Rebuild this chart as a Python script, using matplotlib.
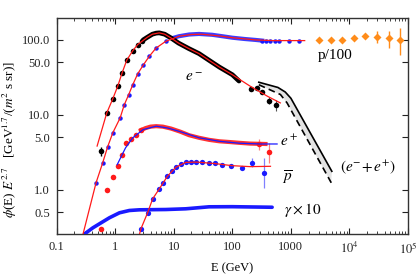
import numpy as np
import matplotlib
matplotlib.use("Agg")
import matplotlib.pyplot as plt
from matplotlib.ticker import LogLocator, FixedLocator, FixedFormatter, NullFormatter, NullLocator

plt.rcParams['font.family'] = ['Liberation Serif', 'DejaVu Serif']
plt.rcParams['mathtext.fontset'] = 'stix'

# ---------------- data ----------------
# electrons (black points) + fit (red)
ele_pts_E = [0.716, 0.907, 1.10, 1.31, 1.57, 1.99, 2.42, 2.87]
ele_pts_y = [10.5, 16.2, 23.8, 36, 53, 71, 86, 95]
ele_low_E = [0.575]
ele_low_y = [3.24]
ele_band_E = [3.0, 3.5, 4.3, 5.0, 5.65, 7.0, 9.0, 12.0, 18.0, 27.0, 40.0, 60.0, 100.0, 130.0]
ele_band_y = [99, 107, 118, 122, 123, 118, 105, 90, 76, 65, 53, 43, 34, 28]
ele_hi_E = [205, 265, 315, 419, 558]
ele_hi_y = [22, 22.7, 19.8, 15.4, 13.3]
ele_hi_err = [1.0, 1.2, 1.2, 1.5, 2.2]
ele_fit_E = [0.49, 0.716, 0.907, 1.10, 1.31, 1.57, 1.99, 2.42, 2.87, 3.5, 4.3, 5.65, 7.0, 9.0, 12.0,
             18.0, 27.0, 40.0, 60.0, 100.0, 200.0, 400.0, 660.0]
ele_fit_y = [3.8, 10.5, 16.2, 23.8, 36, 53, 71, 86, 95, 107, 118, 123, 118, 105, 90,
             76, 65, 53, 43, 34, 24, 17.5, 14.3]

# protons (blue points) + fit (red), high energy p/100 (orange)
pro_pts_E = [0.47, 0.61, 0.74, 0.907, 1.21, 1.43, 1.70, 1.99, 2.42, 3.02, 3.82, 4.96, 7.3, 10.0]
pro_pts_y = [1.23, 2.27, 3.7, 5.7, 9.0, 13.6, 18.5, 25, 35, 46, 60, 77, 95, 106]
pro_band_E = [10.0, 12.3, 18.3, 27.0, 45.0, 67.0, 100.0, 160.0, 249.0, 323.0]
pro_band_y = [106, 111, 117, 119, 116, 111, 106, 102, 99, 97]
pro_hi_E = [323, 383, 448, 530, 621, 918, 1358]
pro_hi_y = [97, 96.5, 96.5, 96.5, 97, 97, 97]
pro_fit_E = [0.28, 0.47, 0.61, 0.74, 0.907, 1.21, 1.43, 1.70, 1.99, 2.42, 3.02, 3.82, 4.96, 7.3,
             12.3, 20.0, 30.0, 60.0, 100.0, 250.0, 500.0, 1000.0, 1720.0]
pro_fit_y = [0.25, 1.23, 2.27, 3.7, 5.7, 9.0, 13.6, 18.5, 25, 35, 46, 60, 77, 95,
             111, 117, 118, 112, 106, 99, 97, 97, 97]
p100_E = [3055, 4810, 7600, 11800, 18500, 29900, 47300, 73600]
p100_y = [100, 100, 100, 104, 111, 109, 104, 100]
p100_err_lo = [2, 2, 2, 3, 5, 19, 27, 37]
p100_err_hi = [2, 2, 2, 3, 5, 20, 25, 43]

# positrons (red points) + fit (blue)
pos_pts_E = [0.575, 0.728, 0.907, 1.10, 1.31, 1.53, 1.86, 2.26, 2.75]
pos_pts_y = [0.293, 1.0, 1.47, 2.09, 2.93, 4.19, 4.74, 5.4, 6.2]
pos_band_E = [2.75, 3.3, 4.0, 5.0, 6.5, 9.0, 13.0, 18.3, 27.0, 40.0, 60.0, 90.0, 130.0, 200.0, 368.0]
pos_band_y = [6.2, 6.6, 6.9, 7.0, 6.9, 6.5, 5.9, 5.3, 4.9, 4.6, 4.4, 4.3, 4.2, 4.1, 4.05]
pos_hi_E = [283, 419]
pos_hi_y = [4.0, 3.14]
pos_hi_lo = [0.6, 0.86]
pos_hi_hi = [0.7, 1.05]
pos_fit_E = [1.08, 1.5, 1.99, 3.0, 5.0, 8.0, 13.0, 27.0, 60.0, 130.0, 300.0, 581.0]
pos_fit_y = [2.15, 3.6, 4.9, 6.3, 7.0, 6.6, 5.9, 4.9, 4.4, 4.15, 4.05, 4.05]

# antiprotons (blue points) + fit (red)
apr_pts_E = [2.75, 3.57, 4.35, 5.65, 6.6, 7.8, 9.3, 10.9, 13.2, 16.0, 19.3, 23.8, 30.0, 40.0, 50.0,
             67.0, 93.0, 147.0]
apr_pts_y = [0.30, 0.49, 0.75, 1.02, 1.23, 1.51, 1.75, 1.99, 2.2, 2.31, 2.33, 2.33, 2.32, 2.28, 2.24,
             2.15, 2.04, 1.94]
apr_hi_E = [213, 344]
apr_hi_y = [2.27, 1.67]
apr_hi_lo = [0.3, 0.61]
apr_hi_hi = [0.35, 0.93]
apr_fit_E = [2.58, 2.75, 3.57, 4.35, 5.65, 7.8, 10.9, 16.0, 25.0, 50.0, 100.0, 200.0, 448.0]
apr_fit_y = [0.25, 0.30, 0.49, 0.75, 1.02, 1.51, 1.99, 2.3, 2.32, 2.22, 2.08, 2.02, 2.04]

# gamma x 10 (thick blue)
gam_E = [0.30, 0.414, 0.538, 0.796, 1.18, 1.74, 2.58, 7.3, 16.0, 40.0, 100.0, 478.0]
gam_y = [0.256, 0.308, 0.349, 0.42, 0.489, 0.525, 0.536, 0.541, 0.553, 0.588, 0.59, 0.58]

# electron + positron band
epm_up_E = [283, 600, 800, 1000, 5000]
epm_up_y = [27, 23, 20, 16.5, 1.75]
epm_lo_E = [283, 663, 860, 4890]
epm_lo_y = [25, 18.5, 14.3, 1.23]

xticks = [0.1, 1, 10, 100, 1000, 1e4, 1e5]
xticklabels = ['0.1', '1', '10', '100', '1000', r'$10^4$', r'$10^5$']
yticks = [0.5, 1.0, 5.0, 10.0, 50.0, 100.0]
yticklabels = ['0.5', '1.0', '5.0', '10.0', '50.0', '100.0']

# ---------------- figure ----------------
fig = plt.figure(figsize=(4.17, 2.77), dpi=100)
ax = fig.add_axes([56.7 / 417, 1 - 234 / 277, (408 - 56.7) / 417, (234 - 17.7) / 277])
ax.set_xscale('log')
ax.set_yscale('log')
ax.set_xlim(0.1, 1e5)
ax.set_ylim(0.255, 196)

RED = '#ff1a1a'
BLUE = '#1a1aff'
ORANGE = '#ff8c1a'

# e+ + e- band
ax.fill(np.concatenate([epm_up_E, epm_lo_E[::-1]]), np.concatenate([epm_up_y, epm_lo_y[::-1]]),
        color='#e3e3e3', lw=0, zorder=1)
ax.plot(epm_up_E, epm_up_y, color='black', lw=1.2, zorder=2)
ax.plot(epm_lo_E, epm_lo_y, color='black', lw=1.2, ls=(0, (4, 2.5)), zorder=2)

# gamma
ax.plot(gam_E, gam_y, color=BLUE, lw=2.6, solid_capstyle='round', zorder=3)

# protons
ax.plot(pro_band_E, pro_band_y, color=BLUE, lw=3.0, alpha=0.85, zorder=3)
ax.plot(pro_pts_E, pro_pts_y, 'o', color=BLUE, ms=3.2, mec='none', zorder=3)
ax.plot(pro_hi_E, pro_hi_y, 'o', color=BLUE, ms=3.2, mec='none', zorder=3)
ax.plot(pro_fit_E, pro_fit_y, color=RED, lw=0.9, zorder=5)
ax.errorbar(p100_E, p100_y, yerr=[p100_err_lo, p100_err_hi], fmt='D', color=ORANGE, ms=4.5,
            mec='none', elinewidth=1.0, capsize=0, zorder=3)

# electrons
ax.plot(ele_band_E, ele_band_y, color='black', lw=3.4, solid_capstyle='round', zorder=4)
ax.plot(ele_pts_E, ele_pts_y, 'o', color='black', ms=4.0, mec='none', zorder=4)
ax.errorbar(ele_low_E, ele_low_y, yerr=0.45, fmt='o', color='black', ms=4.0, mec='none',
            elinewidth=1.0, capsize=0, zorder=4)
ax.errorbar(ele_hi_E, ele_hi_y, yerr=ele_hi_err, fmt='o', color='black', ms=4.0, mec='none',
            elinewidth=0.8, ecolor='#555555', capsize=0, zorder=4)
ax.plot(ele_fit_E, ele_fit_y, color=RED, lw=0.9, zorder=5)

# positrons
ax.plot(pos_band_E, pos_band_y, color=RED, lw=3.0, alpha=0.9, zorder=3)
ax.plot(pos_pts_E, pos_pts_y, 'o', color=RED, ms=4.0, mec='none', zorder=3)
ax.errorbar(pos_hi_E, pos_hi_y, yerr=[pos_hi_lo, pos_hi_hi], fmt='o', color=RED, ms=4.0, mec='none',
            elinewidth=0.9, ecolor='#ff8080', capsize=0, zorder=3)
ax.plot(pos_fit_E, pos_fit_y, color=BLUE, lw=0.9, zorder=5)

# antiprotons
ax.plot(apr_pts_E, apr_pts_y, 'o', color=BLUE, ms=3.8, mec='none', zorder=3)
ax.errorbar(apr_hi_E, apr_hi_y, yerr=[apr_hi_lo, apr_hi_hi], fmt='o', color=BLUE, ms=3.8, mec='none',
            elinewidth=0.9, ecolor='#8080ff', capsize=0, zorder=3)
ax.plot(apr_fit_E, apr_fit_y, color=RED, lw=0.9, zorder=5)

# labels
tk = dict(fontsize=11, ha='center', va='center')
ax.text(5730, 61, 'p/100', **tk)
ax.text(22, 31, r'$e^-$', **tk)
ax.text(918, 4.4, r'$e^+$', **tk)
ax.text(860, 1.43, r'$\overline{p}$', **tk)
ax.text(1600, 0.525, r'$\gamma \times 10$', **tk)
ax.text(21000, 2.01, r'$(e^{-}\!+e^{+})$', **tk)

# axes styling
ax.xaxis.set_major_locator(FixedLocator(xticks))
ax.xaxis.set_major_formatter(FixedFormatter(xticklabels))
ax.xaxis.set_minor_locator(LogLocator(base=10, subs=np.arange(2, 10)))
ax.xaxis.set_minor_formatter(NullFormatter())
ax.yaxis.set_major_locator(FixedLocator(yticks))
ax.yaxis.set_major_formatter(FixedFormatter(yticklabels))
ax.yaxis.set_minor_locator(NullLocator())
ax.tick_params(which='both', direction='in', top=True, right=True, labelsize=9, colors='#222222')
ax.tick_params(which='major', length=4, width=0.8, pad=5)
ax.tick_params(which='minor', length=2.2, width=0.6)
for s in ax.spines.values():
    s.set_linewidth(1.0)
    s.set_color('#333333')

ax.set_xlabel('E (GeV)', fontsize=9, labelpad=4)
fig.text(10 / 417, 1 - 140 / 277, r'$\phi$(E) $E^{2.7}$   [GeV$^{1.7}$/($m^2$ s sr)]',
         rotation=90, fontsize=9.5, ha='center', va='center')

fig.savefig('out.png', dpi=100)
